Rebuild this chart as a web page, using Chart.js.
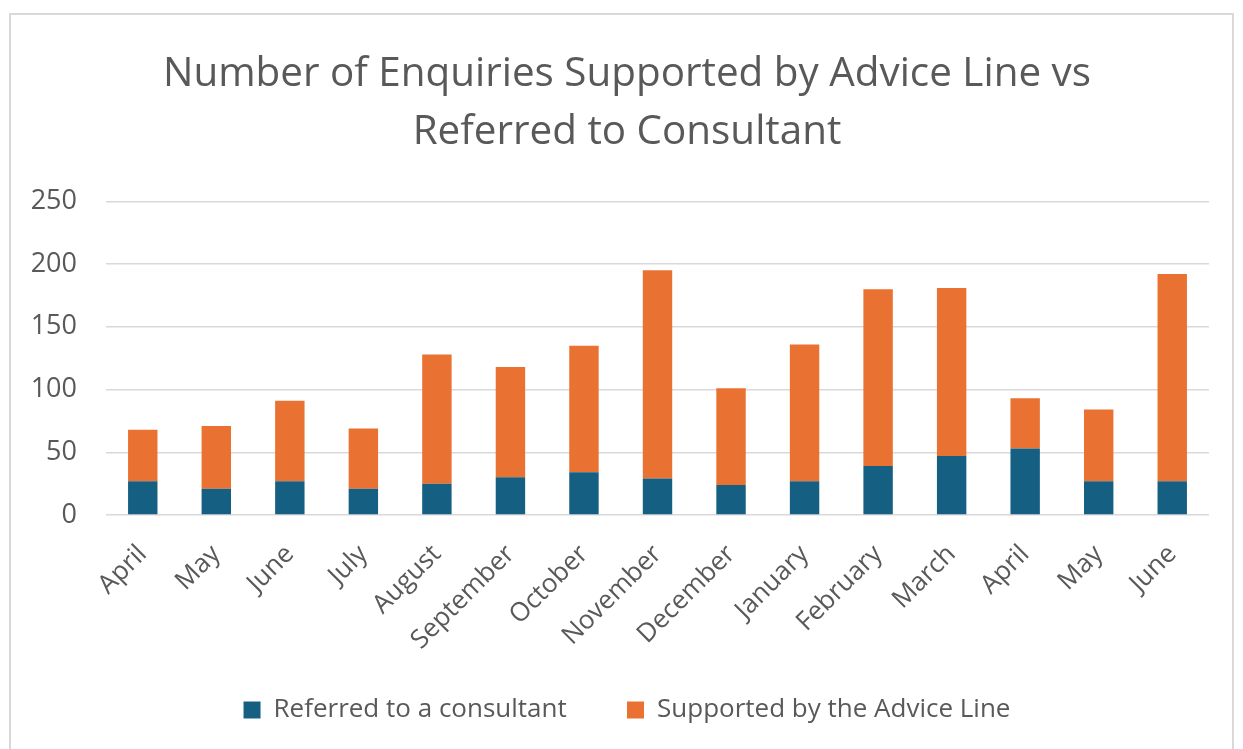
<!DOCTYPE html>
<html>
<head>
<meta charset="utf-8">
<title>Enquiries chart</title>
<script src="https://cdn.jsdelivr.net/npm/chart.js@4.4.1/dist/chart.umd.min.js"></script>
<style>
    html, body { margin: 0; padding: 0; background: #ffffff; overflow: hidden; }
    #frame { position: absolute; left: 9px; top: 13px; width: 1221px; height: 780px; border: 2px solid #d9d9d9; }
    #mycanvas { position: absolute; left: 0; top: 0; }
</style>
</head>
<body>
<div id="frame"></div>
<canvas id="mycanvas" width="1243" height="749"></canvas>
<script>
// months on the x axis
var months = ["April", "May", "June", "July", "August", "September", "October", "November",
    "December", "January", "February", "March", "April", "May", "June"];

// enquiries referred to a consultant (bottom part of each bar)
var referred = [27, 21, 27, 21, 25, 30, 34, 29, 24, 27, 39, 47, 53, 27, 27];

// enquiries supported by the advice line (top part)
var supported = [41, 50, 64, 48, 103, 88, 101, 166, 77, 109, 141, 134, 40, 57, 165];

var yTicks = [0, 50, 100, 150, 200, 250];

var textColor = "#595959";
var fontName = "'Open Sans', sans-serif";

var chartdata = {
    labels: months,
    datasets: [{
            label: "Referred to a consultant",
            backgroundColor: "#156082",
            data: referred
        },
        {
            label: "Supported by the Advice Line",
            backgroundColor: "#E97132",
            data: supported
        }
    ]
};

var ctx = document.getElementById("mycanvas");

var BarGraph = new Chart(ctx, {
    type: 'bar',
    data: chartdata,
    options: {
        responsive: false,
        animation: false,
        layout: {
            padding: { left: 30, right: 19, top: 0, bottom: 16 }
        },
        datasets: {
            bar: {
                categoryPercentage: 1,
                barPercentage: 0.4
            }
        },
        plugins: {
            title: {
                display: true,
                text: ["Number of Enquiries Supported by Advice Line vs", "Referred to Consultant"],
                color: textColor,
                font: { family: fontName, size: 40.4, weight: 'normal', lineHeight: 1.44 },
                padding: { top: 45, bottom: 40 }
            },
            legend: {
                position: 'bottom',
                labels: {
                    color: textColor,
                    font: { family: fontName, size: 26 },
                    boxWidth: 17,
                    boxHeight: 17,
                    padding: 40,
                    // a little extra room after the first entry
                    generateLabels: function(chart) {
                        var items = Chart.defaults.plugins.legend.labels.generateLabels(chart);
                        items[0].text = items[0].text + "   ";
                        return items;
                    }
                }
            },
            tooltip: { enabled: false }
        },
        scales: {
            x: {
                stacked: true,
                afterFit: function(scale) {
                    scale.height = 142;
                },
                grid: { display: false },
                border: { display: false },
                ticks: {
                    color: textColor,
                    font: { family: fontName, size: 26 },
                    autoSkip: false,
                    minRotation: 45,
                    maxRotation: 45,
                    padding: 16
                }
            },
            y: {
                stacked: true,
                min: yTicks[0],
                max: yTicks[yTicks.length - 1],
                afterFit: function(scale) {
                    scale.width = 76;
                },
                afterBuildTicks: function(scale) {
                    scale.ticks = yTicks.map(function(v) { return { value: v }; });
                },
                grid: {
                    color: "#d9d9d9",
                    lineWidth: 1.5,
                    drawTicks: false
                },
                border: { display: false },
                ticks: {
                    color: textColor,
                    font: { family: fontName, size: 27 },
                    padding: 29
                }
            },
            // empty strip on the right so title and legend sit a bit right of the plot centre
            yRight: {
                position: 'right',
                afterFit: function(scale) {
                    scale.width = 15;
                },
                grid: { display: false },
                border: { display: false },
                ticks: { display: false }
            }
        }
    }
});
</script>
</body>
</html>
